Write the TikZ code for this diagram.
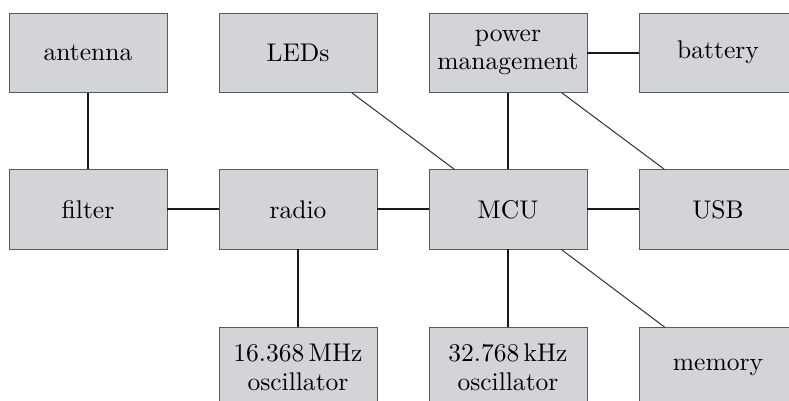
\documentclass[tikz,border=0pt]{standalone}
\usepackage{tikz}
\usepackage{xcolor}
\definecolor{boxgray}{RGB}{211,212,216}

\begin{document}
\begin{tikzpicture}[x=1cm,y=1cm,
  block/.style={draw=black!65,fill=boxgray,minimum width=2.37cm,minimum height=1.19cm,
    align=center,font=\fontsize{10.9}{12.1}\selectfont},
  bus/.style={thick,black!90},
  link/.style={black!85}]
\useasboundingbox (0,0) rectangle (11.835,-6.015);
\node[block] (antenna) at (1.32,-0.79) {antenna};
\node[block] (leds) at (4.47,-0.79) {LEDs};
\node[block] (power) at (7.62,-0.79) {power\\management};
\node[block] (battery) at (10.77,-0.79) {battery};
\node[block] (filter) at (1.32,-3.14) {filter};
\node[block] (radio) at (4.47,-3.14) {radio};
\node[block] (mcu) at (7.62,-3.14) {MCU};
\node[block] (usb) at (10.77,-3.14) {USB};
\node[block] (osca) at (4.47,-5.51) {16.368\,MHz\\oscillator};
\node[block] (oscb) at (7.62,-5.51) {32.768\,kHz\\oscillator};
\node[block] (memory) at (10.77,-5.51) {memory};
\draw[bus] (antenna) -- (filter);
\draw[bus] (filter) -- (radio);
\draw[bus] (radio) -- (mcu);
\draw[bus] (mcu) -- (usb);
\draw[bus] (power) -- (battery);
\draw[bus] (power) -- (mcu);
\draw[bus] (radio) -- (osca);
\draw[bus] (mcu) -- (oscb);
\draw[link] (leds) -- (mcu);
\draw[link] (power) -- (usb);
\draw[link] (mcu) -- (memory);
\end{tikzpicture}
\end{document}
